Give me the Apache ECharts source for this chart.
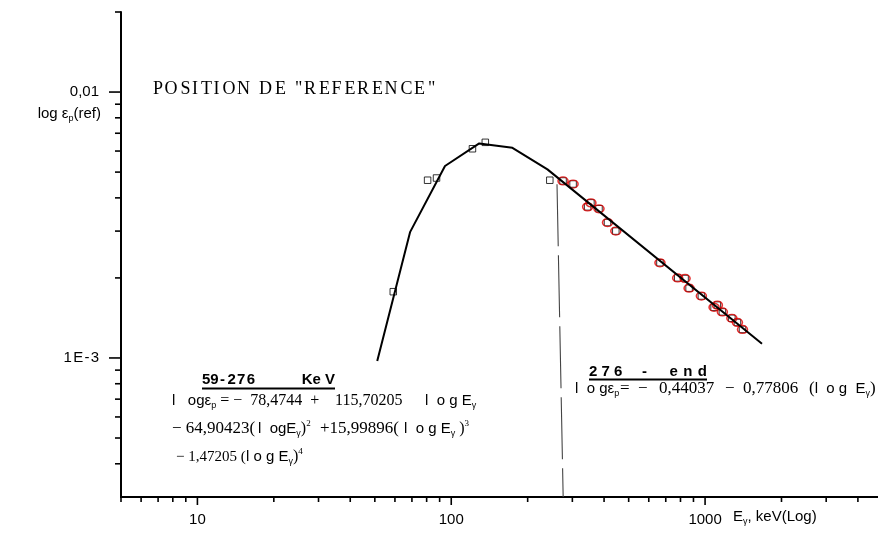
<!DOCTYPE html>
<html><head><meta charset="utf-8">
<script src="https://cdn.jsdelivr.net/npm/echarts@6/dist/echarts.min.js"></script>
<style>html,body{margin:0;padding:0;background:#fff}#c{width:878px;height:540px}</style>
</head><body><div id="c"></div>
<script>
// ---- axis ranges & tick lists ----
const X_MIN = 5, X_MAX = 4800, Y_MIN = 3e-4, Y_MAX = 0.02;
const xMajorTicks = [10, 100, 1000];
const xMinorTicks = [5, 6, 7, 8, 9, 20, 30, 40, 50, 60, 70, 80, 90, 200, 300, 400, 500, 600, 700, 800, 900, 2000, 3000, 4000];
const yMajorTicks = [0.001, 0.01];
const yMinorTicks = [4e-4, 5e-4, 6e-4, 7e-4, 8e-4, 9e-4, 0.002, 0.003, 0.004, 0.005, 0.006, 0.007, 0.008, 0.009, 0.02];
const xTickLabels = { '1': '10', '2': '100', '3': '1000' };
const yTickLabels = { '-2': '0,01', '-3': '1\u200AE\u200A-\u200A3' };

// ---- fitted curve (polynomial part + linear part) ----
const fitE   = [51.1, 68.9, 94.5, 128.9, 174.2, 239.3, 1676];
const fitEff = [9.75e-4, 2.98e-3, 5.27e-3, 6.41e-3, 6.17e-3, 5.12e-3, 1.13e-3];

// ---- measured points (squares) ----
const sqE   = [59.1, 80.7, 87.5, 121.2, 136.2, 244.5, 275.7, 302, 355, 344.6, 382, 412.7, 445, 664, 780, 834, 865, 967, 1085, 1118, 1170, 1275, 1341, 1404];
const sqEff = [1.775e-3, 4.66e-3, 4.75e-3, 6.12e-3, 6.47e-3, 4.66e-3, 4.63e-3, 4.51e-3, 3.83e-3, 3.70e-3, 3.64e-3, 3.23e-3, 3.00e-3, 2.28e-3, 2.00e-3, 1.99e-3, 1.83e-3, 1.71e-3, 1.55e-3, 1.58e-3, 1.49e-3, 1.41e-3, 1.36e-3, 1.28e-3];

// ---- points circled in red ----
const redE   = [275.7, 302, 355, 344.6, 382, 412.7, 445, 664, 780, 834, 865, 967, 1085, 1118, 1170, 1275, 1341, 1404];
const redEff = [4.63e-3, 4.51e-3, 3.83e-3, 3.70e-3, 3.64e-3, 3.23e-3, 3.00e-3, 2.28e-3, 2.00e-3, 1.99e-3, 1.83e-3, 1.71e-3, 1.55e-3, 1.58e-3, 1.49e-3, 1.41e-3, 1.36e-3, 1.28e-3];

// ---- 276 keV boundary line ----
const boundE   = [261, 276];
const boundEff = [4.5e-3, 3e-4];

const zip = (a, b) => a.map((v, i) => [v, b[i]]);

const tickData = [];
xMajorTicks.forEach(v => tickData.push([v, Y_MIN, 0, 8]));
xMinorTicks.forEach(v => tickData.push([v, Y_MIN, 0, 5]));
yMajorTicks.forEach(v => tickData.push([X_MIN, v, 1, 12]));
yMinorTicks.forEach(v => tickData.push([X_MIN, v, 1, 6]));

const SANS = '"Liberation Sans", Arial, sans-serif';
const SERIF = '"Liberation Serif", "Times New Roman", serif';
const rich = {
  a:   { fontFamily: SANS, fontSize: 15, fill: '#000' },
  t:   { fontFamily: SERIF, fontSize: 16, fill: '#000' },
  t15: { fontFamily: SERIF, fontSize: 15, fill: '#000' },
  t17: { fontFamily: SERIF, fontSize: 17, fill: '#000' },
  sub: { fontFamily: SANS, fontSize: 9, fill: '#000', padding: [9, 0, 0, 0] },
  sup: { fontFamily: SERIF, fontSize: 9, fill: '#000', padding: [0, 0, 11, 0] },
  b:   { fontFamily: SANS, fontSize: 15, fontWeight: 'bold', fill: '#000' }
};
function txt(x, y, text, align) {
  return { type: 'text', x: x, y: y, z: 50,
    style: { text: text, rich: rich, align: align || 'left', verticalAlign: 'middle' } };
}
function uline(x1, x2, y) {
  return { type: 'line', z: 50, shape: { x1: x1, y1: y, x2: x2, y2: y }, style: { stroke: '#000', lineWidth: 2 } };
}
const H = '\u200A';
// letter-spaced text: alternating one and two hair spaces
const spaced = s => s.split('').map((c, i) => i === 0 ? c : (i % 2 ? H : H + H) + c).join('');

const chart = echarts.init(document.getElementById('c'), null, { renderer: 'canvas' });
chart.setOption({
  animation: false,
  backgroundColor: '#fff',
  grid: { left: 121, right: 0, top: 12, bottom: 43 },
  xAxis: {
    type: 'log', logBase: 10, min: X_MIN, max: X_MAX,
    axisLine: { lineStyle: { color: '#000', width: 2 } },
    axisTick: { show: false }, splitLine: { show: false },
    axisLabel: { showMinLabel: false, showMaxLabel: false, margin: 15, color: '#000', fontSize: 15, fontFamily: SANS,
      formatter: v => xTickLabels[String(Math.round(Math.log10(v)))] || '' }
  },
  yAxis: {
    type: 'log', logBase: 10, min: Y_MIN, max: Y_MAX,
    axisLine: { lineStyle: { color: '#000', width: 2 } },
    axisTick: { show: false }, splitLine: { show: false },
    axisLabel: { showMinLabel: false, showMaxLabel: false, margin: 22, color: '#000', fontSize: 15, fontFamily: SANS,
      formatter: v => yTickLabels[String(Math.round(Math.log10(v)))] || '' }
  },
  series: [
    { type: 'custom', clip: false, silent: true, data: tickData,
      renderItem: (params, api) => {
        const p = api.coord([api.value(0), api.value(1)]);
        const dir = api.value(2), len = api.value(3);
        const shape = dir === 0 ? { x1: p[0], y1: p[1], x2: p[0], y2: p[1] + len }
                                : { x1: p[0] - len, y1: p[1], x2: p[0], y2: p[1] };
        return { type: 'line', shape: shape, style: { stroke: '#000', lineWidth: 1.6 } };
      } },
    { type: 'line', data: zip(boundE, boundEff), symbol: 'none', silent: true,
      lineStyle: { color: '#444', width: 1.1, type: [62, 9] } },
    { type: 'line', data: zip(fitE, fitEff), symbol: 'none', silent: true,
      lineStyle: { color: '#000', width: 2 } },
    { type: 'scatter', data: zip(sqE, sqEff), symbol: 'rect', symbolSize: 6.5, silent: true,
      itemStyle: { color: '#fff', borderColor: '#000', borderWidth: 1 } },
    { type: 'scatter', data: zip(redE, redEff), symbol: 'circle', symbolSize: [10, 8], silent: true,
      itemStyle: { color: 'rgba(0,0,0,0)', borderColor: '#e00000', borderWidth: 1.4 } }
  ],
  graphic: [
    { type: 'text', x: 153, y: 89, z: 50,
      style: { text: spaced('POSITION DE "REFERENCE"'), font: '18px ' + SERIF, fill: '#000', align: 'left', verticalAlign: 'middle' } },
    txt(101, 114, '{a|log ε}{sub|p}{a|(ref)}', 'right'),
    txt(733, 517, '{a|E}{sub|γ}{a|, keV(Log)}'),

    // left block : 59 - 276 keV
    txt(202, 380, '{b|59' + H + '-' + H + H + '2' + H + '7' + H + '6}'),
    txt(335, 380, '{b|Ke V}', 'right'),
    uline(202, 335, 388.5),
    txt(172, 401, '{a|l   og}{a|ε}{sub|p}{t| = −  78,4744  +}'),
    txt(335, 401, '{t|115,70205}'),
    txt(425, 401, '{a|l  o g E}{sub|γ}'),
    txt(172, 429, '{t17|− 64,90423(}'),
    txt(258, 429, '{a|l  ogE}{sub|γ}{t|)}{sup|2}'),
    txt(320, 429, '{t17|+15,99896(}'),
    txt(404, 429, '{a|l  o g E}{sub|γ}{t| )}{sup|3}'),
    txt(176, 457, '{t15|− 1,47205 (}'),
    txt(246, 457, '{a|l o g E}{sub|γ}{t|)}{sup|4}'),

    // right block : 276 - end
    txt(589, 372, '{b|2 7 6}'),
    txt(644.5, 372, '{b|-}', 'center'),
    txt(707, 372, '{b|e' + H + ' n' + H + ' d}', 'right'),
    uline(589, 707, 379.5),
    txt(575, 389, '{a|l  o g}{a|ε}{sub|p}'),
    txt(620, 389, '{t17|=  −}'),
    txt(659, 389, '{t17|0,44037}'),
    txt(725, 389, '{t17|−}'),
    txt(743, 389, '{t17|0,77806}'),
    txt(809, 389, '{t17|(}{a|l  o g  E}{sub|γ}{t17|)}')
  ]
});
</script></body></html>
